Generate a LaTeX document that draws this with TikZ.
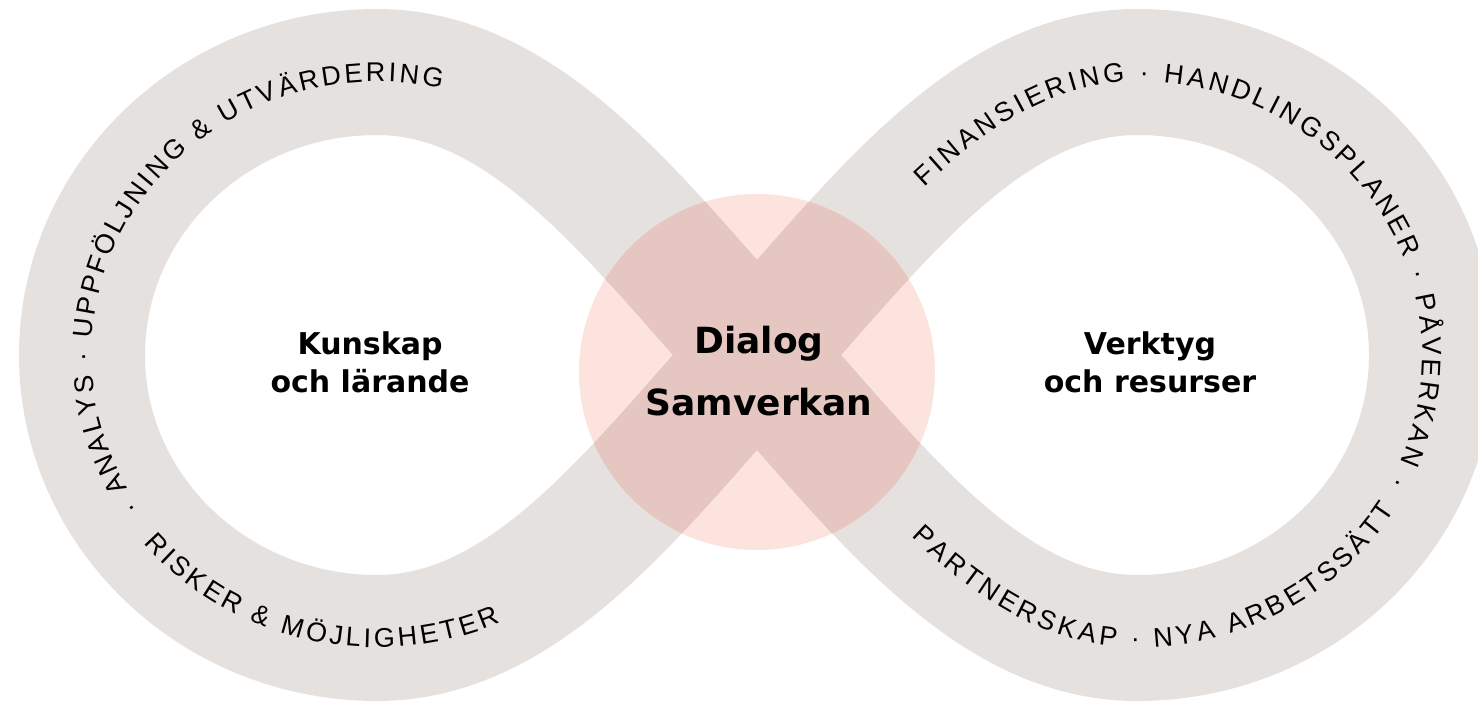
\documentclass[tikz,border=0pt]{standalone}
\usepackage{fontspec}
\setmainfont{DejaVu Sans}
\newfontfamily\ringfont{Liberation Sans}
\usetikzlibrary{decorations.text}

\definecolor{bandgray}{HTML}{E5E1DF}
\definecolor{dialogpink}{HTML}{FCE3DD}
\definecolor{overlaprose}{HTML}{E5C6C0}

% centre line of the figure eight
\newcommand{\infinitypath}{(757,355) .. controls (636.6,221.3) and (527,72) .. (377,72)
    .. controls (214,72) and (82,199) .. (82,355)
    .. controls (82,511) and (214,638) .. (377,638)
    .. controls (527,638) and (636.6,488.7) .. (757,355)
    .. controls (877.4,221.3) and (987,72) .. (1137,72)
    .. controls (1300,72) and (1432,199) .. (1432,355)
    .. controls (1432,511) and (1300,638) .. (1137,638)
    .. controls (987,638) and (877.4,488.7) .. (757,355) -- cycle}

\begin{document}
\begin{tikzpicture}[x=1pt, y=-1pt,
    band/.style={line width=126pt, line join=round, draw=bandgray},
    ringtext/.style={decorate, decoration={text along path, text align=fit to path, raise=-9.5pt,
        text={|\ringfont\fontsize{27}{27}\selectfont|#1}}}]
    % Drawing the frame
    \useasboundingbox (0,0) rectangle (1478,701);

    % Drawing the infinity band
    \draw[band] \infinitypath;

    % Drawing the dialog circle
    \fill[dialogpink] (757,372) circle[radius=178];
    \begin{scope}
        \clip (757,372) circle[radius=178];
        \draw[band, draw=overlaprose] \infinitypath;
    \end{scope}

    % Drawing the texts of the left loop
    \path[ringtext={· ANALYS · UPPFÖLJNING {\&} UTVÄRDERING}]
        ([shift={(377,355)}]146:295 and 283) arc[start angle=146, end angle=283, x radius=295, y radius=283];
    \path[ringtext={RISKER {\&} MÖJLIGHETER}]
        ([shift={(377,355)}]140:295 and 283) arc[start angle=140, end angle=66, x radius=295, y radius=283];

    % Drawing the texts of the right loop
    \path[ringtext={FINANSIERING · HANDLINGSPLANER · PÅVERKAN ·}]
        (917.6,180.1) .. controls (984.2,117.2) and (1054.5,72) .. (1137,72)
        arc[start angle=270, end angle=388, x radius=295, y radius=283];
    \path[ringtext={PARTNERSKAP · NYA ARBETSSÄTT}]
        (917.6,529.9) .. controls (984.2,592.8) and (1054.5,638) .. (1137,638)
        arc[start angle=90, end angle=32, x radius=295, y radius=283];

    % Drawing the labels
    \node[font=\bfseries\fontsize{30}{38}\selectfont, align=center] (kunskap) at (370,362) {Kunskap\\och lärande};
    \node[font=\bfseries\fontsize{36}{62}\selectfont, align=center] (dialog) at (759,371) {Dialog\\Samverkan};
    \node[font=\bfseries\fontsize{30}{38}\selectfont, align=center] (verktyg) at (1150,362) {Verktyg\\och resurser};
\end{tikzpicture}
\end{document}
